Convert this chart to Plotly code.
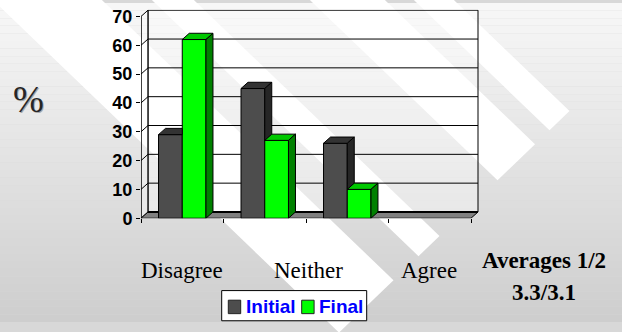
import plotly.graph_objects as go

# ---- data ----
categories = ["Disagree", "Neither", "Agree"]
initial_pct = [29, 45, 26]
final_pct = [62, 27, 10]
y_tick_values = [0, 10, 20, 30, 40, 50, 60, 70]
series_names = ["Initial", "Final"]
averages_lines = ["Averages 1/2", "3.3/3.1"]
y_axis_title = "%"

# ---- page geometry (pixels) ----
W, H = 622, 332
PLOT_LEFT, PLOT_RIGHT = 141, 479
PLOT_TOP, PLOT_BOTTOM = 7, 224
PX_PER_SLOT = 82.5          # width of one category slot on the front plane
PX_PER_UNIT = 3.0           # pixels per percentage point
N_SLOTS = 4                 # three answer categories plus an empty slot
DEPTH_PX = (7.0, 6.5)       # 3-D depth offset (right, up)
BAR_W = 0.2875              # bar width in slot units (gap width 150 %)
Y_MAX = y_tick_values[-1]

DX = DEPTH_PX[0] / PX_PER_SLOT
DY = DEPTH_PX[1] / PX_PER_UNIT
X_RANGE = [0, (PLOT_RIGHT - PLOT_LEFT) / PX_PER_SLOT]
Y_RANGE = [0, (PLOT_BOTTOM - PLOT_TOP) / PX_PER_UNIT]

LABEL_X_PX = [181.5, 308, 429]
SERIF = "Times New Roman, Liberation Serif, serif"
SANS = "Arial, Liberation Sans, sans-serif"

COLORS = {
    "Initial": dict(front="#4d4d4d", top="#333333", side="#262626"),
    "Final": dict(front="#00ff00", top="#00c800", side="#008000"),
}


def fx(x):
    return x / W


def fy(y):
    return 1 - y / H


def clip(poly, f):
    """Keep the part of a convex polygon where f(point) >= 0."""
    out = []
    n = len(poly)
    for i in range(n):
        p, q = poly[i], poly[(i + 1) % n]
        fp, fq = f(p), f(q)
        if fp >= 0:
            out.append(p)
        if (fp >= 0) != (fq >= 0):
            t = fp / (fp - fq)
            out.append((p[0] + t * (q[0] - p[0]), p[1] + t * (q[1] - p[1])))
    return out


def face_trace(poly, color):
    xs = [p[0] for p in poly] + [poly[0][0]]
    ys = [p[1] for p in poly] + [poly[0][1]]
    return go.Scatter(x=xs, y=ys, mode="lines", fill="toself", fillcolor=color,
                      line=dict(color="black", width=1), hoverinfo="skip",
                      showlegend=False)


slot_centers = [i + 0.5 for i in range(len(categories))]
offsets = {"Initial": -BAR_W, "Final": 0.0}
values = {"Initial": initial_pct, "Final": final_pct}

fig = go.Figure()

# front faces of the columns
for name in series_names:
    fig.add_trace(go.Bar(
        x=slot_centers, y=values[name], width=BAR_W, offset=offsets[name],
        name=name, marker=dict(color=COLORS[name]["front"],
                               line=dict(color="black", width=1)),
        showlegend=False,
    ))

# top and side faces, hidden parts removed where the neighbour column is in front
for i, c in enumerate(slot_centers):
    for name in series_names:
        v = values[name][i]
        x0 = c + offsets[name]
        x1 = x0 + BAR_W
        top = [(x0, v), (x1, v), (x1 + DX, v + DY), (x0 + DX, v + DY)]
        side = [(x1, 0), (x1, v), (x1 + DX, v + DY), (x1 + DX, DY)]
        tops, sides = [top], [side]
        if name == "Initial":
            vf = final_pct[i]
            if vf > v:
                left = clip(top, lambda p: c - p[0])
                right = clip(clip(top, lambda p: p[0] - c), lambda p: p[1] - vf)
                tops = [left, right]
            sides = [clip(side, lambda p: p[1] - vf)]
        for poly in tops:
            if len(poly) >= 3:
                fig.add_trace(face_trace(poly, COLORS[name]["top"]))
        for poly in sides:
            if len(poly) >= 3:
                fig.add_trace(face_trace(poly, COLORS[name]["side"]))

shapes = []

# page background: vertical grey gradient
n_bands = 42
top_rgb, bot_rgb = 247, 206
for k in range(n_bands):
    y0 = H * k / n_bands
    y1 = H * (k + 1) / n_bands
    g = round(top_rgb + (bot_rgb - top_rgb) * (k + 0.5) / n_bands)
    shapes.append(dict(type="rect", xref="paper", yref="paper", layer="below",
                       x0=0, x1=1, y0=fy(y1), y1=fy(y0),
                       fillcolor=f"rgb({g},{g},{g})", line=dict(width=0)))

# diagonal white ribbons, each cut square at the line x + y = END
END = 682
ribbons = [(-4, 105), (155, 197), (313, 388), (417, 457)]
FAR = -900
for c1, c2 in ribbons:
    pts = [((FAR + c1) / 2, (FAR - c1) / 2), ((END + c1) / 2, (END - c1) / 2),
           ((END + c2) / 2, (END - c2) / 2), ((FAR + c2) / 2, (FAR - c2) / 2)]
    path = "M " + " L ".join(f"{fx(x):.5f},{fy(y):.5f}" for x, y in pts) + " Z"
    shapes.append(dict(type="path", xref="paper", yref="paper", layer="below",
                       path=path, fillcolor="white", line=dict(width=0)))

# chart walls, gridlines and floor (data coordinates)
wall_fill = "rgba(255,255,255,0.35)"
shapes.append(dict(type="rect", xref="x", yref="y", layer="below",
                   x0=DX, x1=N_SLOTS + DX, y0=DY, y1=Y_MAX + DY,
                   fillcolor=wall_fill, line=dict(color="black", width=1)))
shapes.append(dict(type="path", xref="x", yref="y", layer="below",
                   path=f"M 0,0 L {DX},{DY} L {DX},{Y_MAX + DY} L 0,{Y_MAX} Z",
                   fillcolor=wall_fill, line=dict(color="black", width=1)))
for v in y_tick_values[1:-1]:
    shapes.append(dict(type="path", xref="x", yref="y", layer="below",
                       path=f"M 0,{v} L {DX},{v + DY} L {N_SLOTS + DX},{v + DY}",
                       line=dict(color="black", width=1)))
shapes.append(dict(type="path", xref="x", yref="y", layer="below",
                   path=f"M 0,0 L {N_SLOTS},0 L {N_SLOTS + DX},{DY} L {DX},{DY} Z",
                   fillcolor="#808080", line=dict(color="black", width=1)))
shapes.append(dict(type="line", xref="x", yref="y", layer="below",
                   x0=DX, x1=N_SLOTS + DX, y0=DY, y1=DY,
                   line=dict(color="black", width=2)))
shapes.append(dict(type="line", xref="x", yref="y", layer="above",
                   x0=0, x1=0, y0=0, y1=Y_MAX, line=dict(color="black", width=1)))

# legend box and swatches
LEG = dict(x0=221.7, x1=366.7, y0=299.3, y1=330.7)
shapes.append(dict(type="rect", xref="paper", yref="paper", layer="above",
                   x0=fx(LEG["x0"]), x1=fx(LEG["x1"]), y0=fy(LEG["y1"]), y1=fy(LEG["y0"]),
                   fillcolor="white", line=dict(color="black", width=1)))
swatch_x = [228.3, 301.7]
legend_text_x = [245, 318.3]
for sx, name in zip(swatch_x, series_names):
    shapes.append(dict(type="rect", xref="paper", yref="paper", layer="above",
                       x0=fx(sx), x1=fx(sx + 12.4), y0=fy(323.3), y1=fy(309.3),
                       fillcolor=COLORS[name]["front"], line=dict(color="#222222", width=1)))

annotations = []
for tx, name in zip(legend_text_x, series_names):
    annotations.append(dict(xref="paper", yref="paper", x=fx(tx), y=fy(316),
                            xanchor="left", yanchor="middle", showarrow=False,
                            borderpad=0, text=f"<b>{name}</b>",
                            font=dict(family=SANS, size=19, color="#0000ff")))

for lx, cat in zip(LABEL_X_PX, categories):
    annotations.append(dict(xref="paper", yref="paper", x=fx(lx), y=fy(278),
                            xanchor="center", yanchor="middle", showarrow=False,
                            text=cat, font=dict(family=SERIF, size=23, color="black")))

for ly, line in zip([268.5, 301], averages_lines):
    annotations.append(dict(xref="paper", yref="paper", x=fx(543.5), y=fy(ly),
                            xanchor="center", yanchor="middle", showarrow=False,
                            text=f"<b>{line}</b>",
                            font=dict(family=SERIF, size=23, color="black")))

# axis title with a soft drop shadow
for dx, dy, col in [(1.5, 1.5, "#a8a8a8"), (0, 0, "#262626")]:
    annotations.append(dict(xref="paper", yref="paper", x=fx(28.5 + dx), y=fy(100 + dy),
                            xanchor="center", yanchor="middle", showarrow=False,
                            text=y_axis_title,
                            font=dict(family=SERIF, size=37, color=col)))

fig.update_layout(
    width=W, height=H, autosize=False,
    margin=dict(l=0, r=0, t=0, b=0, pad=0),
    paper_bgcolor="#d8d8d8", plot_bgcolor="rgba(0,0,0,0)",
    barmode="overlay", showlegend=False,
    shapes=shapes, annotations=annotations,
    xaxis=dict(domain=[fx(PLOT_LEFT), fx(PLOT_RIGHT)], range=X_RANGE,
               tickvals=list(range(N_SLOTS + 1)), ticks="outside", ticklen=4,
               tickcolor="black", tickwidth=1, showticklabels=False,
               showgrid=False, zeroline=False, showline=False, fixedrange=True),
    yaxis=dict(domain=[fy(PLOT_BOTTOM), fy(PLOT_TOP)], range=Y_RANGE,
               tickvals=y_tick_values, ticks="outside", ticklen=4,
               tickcolor="black", tickwidth=1,
               tickfont=dict(family=SANS, size=18, color="black", weight="bold"),
               showgrid=False, zeroline=False, showline=False, fixedrange=True),
)

fig.write_html("out.html")
